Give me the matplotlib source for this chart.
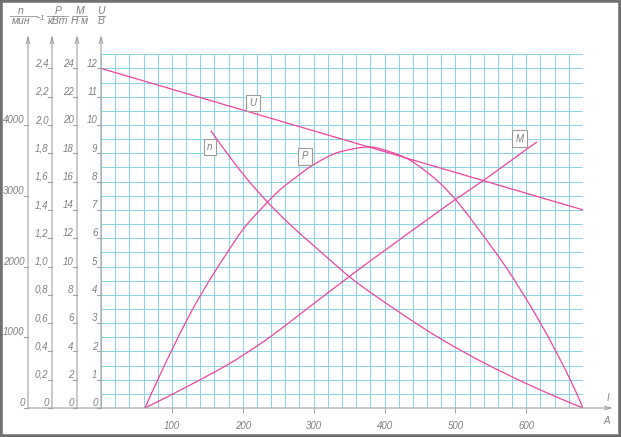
import numpy as np
import matplotlib.pyplot as plt
from matplotlib.patches import Rectangle, PathPatch
from matplotlib.path import Path

plt.rcParams['font.family'] = ['Liberation Sans', 'DejaVu Sans']

# current, A
x_ticks = [100, 200, 300, 400, 500, 600]

# voltage U, V
u_current = [0, 680]
u_volts = [12.0, 7.0]

# speed n, rpm
n_current = [155, 182, 205, 234, 267, 300, 337, 350, 417, 478, 540, 610, 680]
n_rpm = [3920, 3545, 3250, 2920, 2590, 2295, 1970, 1858, 1380, 985, 640, 300, 0]

# power P, kW
p_current = [62, 100, 121, 142, 164, 177, 200, 234, 252, 267, 300, 337, 379,
             408, 431, 459, 478, 499, 539, 572, 620, 662, 680]
p_kw = [0, 0.41, 0.62, 0.81, 0.99, 1.09, 1.26, 1.45, 1.54, 1.60, 1.72, 1.81, 1.845,
        1.81, 1.765, 1.67, 1.59, 1.48, 1.22, 0.99, 0.60, 0.20, 0]

# torque M, N*m
m_current = [62, 121, 180, 201, 238, 267, 350, 478, 499, 539, 598, 615]
m_nm = [0, 1.5, 3.1, 3.75, 5.0, 6.1, 9.28, 13.95, 14.7, 16.06, 18.2, 18.8]

# scale ticks
u_ticks = list(range(0, 13))
m_ticks = list(range(0, 25, 2))
p_ticks = [0, 0.2, 0.4, 0.6, 0.8, 1.0, 1.2, 1.4, 1.6, 1.8, 2.0, 2.2, 2.4]
n_ticks = [0, 1000, 2000, 3000, 4000]

# every scale is drawn on the U scale
N_PER_U = 400.0
M_PER_U = 2.0
P_PER_U = 0.2

PINK = '#f2449e'
GRID = '#8ad4e4'
GRAY = '#a2a2a2'
TXT = '#808080'
W, H = 621, 437


def smooth_curve(x, y):
  # monotone cubic through the read points, drawn as bezier segments
  x = np.asarray(x, float)
  y = np.asarray(y, float)
  h = np.diff(x)
  d = np.diff(y) / h
  m = np.zeros(len(x))
  for k in range(1, len(x) - 1):
    if d[k - 1] * d[k] > 0:
      w1 = 2 * h[k] + h[k - 1]
      w2 = h[k] + 2 * h[k - 1]
      m[k] = (w1 + w2) / (w1 / d[k - 1] + w2 / d[k])
  m[0] = ((2 * h[0] + h[1]) * d[0] - h[0] * d[1]) / (h[0] + h[1])
  if m[0] * d[0] <= 0:
    m[0] = 0
  m[-1] = ((2 * h[-1] + h[-2]) * d[-1] - h[-1] * d[-2]) / (h[-1] + h[-2])
  if m[-1] * d[-1] <= 0:
    m[-1] = 0
  verts = [(x[0], y[0])]
  codes = [Path.MOVETO]
  for k in range(len(x) - 1):
    verts += [(x[k] + h[k] / 3, y[k] + m[k] * h[k] / 3),
              (x[k + 1] - h[k] / 3, y[k + 1] - m[k + 1] * h[k] / 3),
              (x[k + 1], y[k + 1])]
    codes += [Path.CURVE4] * 3
  return PathPatch(Path(verts, codes), fill=False, ec=PINK, lw=0.9, zorder=3)


def fmt(v):
  return ('%.1f' % v).replace('.', ',') if isinstance(v, float) else str(v)


fig = plt.figure(figsize=(W / 100, H / 100), dpi=100)
ax = fig.add_axes([101 / W, 29 / H, 482 / W, 353.75 / H])
ax.set_xlim(0, 680)
ax.set_ylim(0, 12.5)
for s in ax.spines.values():
  s.set_visible(False)

px_a = 482 / 680.0   # pixels per ampere
px_u = 353.75 / 12.5  # pixels per volt

# grid
ax.set_xticks(x_ticks)
ax.set_xticks(np.arange(0, 681, 20), minor=True)
ax.set_yticks([])
ax.set_yticks(np.arange(0, 12.51, 0.5), minor=True)
ax.grid(which='both', color=GRID, lw=0.45, antialiased=False)
ax.tick_params(axis='y', which='both', length=0, labelleft=False)
ax.tick_params(axis='x', which='minor', length=0)
ax.tick_params(axis='x', which='major', length=3.6, width=0.7, color=GRAY,
               pad=6, labelsize=7, labelcolor=TXT)
for lbl in ax.get_xticklabels():
  lbl.set_fontstyle('italic')
ax.set_axisbelow(True)

# curves
ax.plot(u_current, u_volts, color=PINK, lw=0.9, zorder=3)
ax.add_patch(smooth_curve(n_current, np.array(n_rpm) / N_PER_U))
ax.add_patch(smooth_curve(p_current, np.array(p_kw) / P_PER_U))
ax.add_patch(smooth_curve(m_current, np.array(m_nm) / M_PER_U))

# axes lines with arrows
arrow = dict(arrowstyle='->,head_length=0.45,head_width=0.12', color=GRAY,
             lw=0.8, shrinkA=0, shrinkB=0)
top_u = 373 / px_u
scales = [(-73, n_ticks, N_PER_U), (-49, p_ticks, P_PER_U),
          (-24, m_ticks, M_PER_U), (0, u_ticks, 1.0)]
for off, ticks, k in scales:
  xa = off / px_a
  ax.annotate('', xy=(xa, top_u), xytext=(xa, 0), arrowprops=arrow,
              annotation_clip=False, zorder=4)
  tl = 4.5 / px_a
  for t in ticks:
    y = t / k
    ax.plot([xa - tl, xa], [y, y], color=GRAY, lw=0.8, clip_on=False, zorder=4)
    ax.text(xa - tl + 1 / px_a, y + 1.8 / px_u, fmt(t), ha='right', va='baseline',
            fontsize=7, color=TXT, style='italic')

ax.annotate('', xy=(512 / px_a, 0), xytext=(-73 / px_a, 0), arrowprops=arrow,
            annotation_clip=False, zorder=4)
ax.text(507 / px_a, 10 / px_u, 'I', ha='center', va='center', fontsize=7,
        color=TXT, style='italic')
ax.text(506 / px_a, -12.7 / px_u, 'A', ha='center', va='center', fontsize=7,
        color=TXT, style='italic')

# curve labels
box = dict(boxstyle='square,pad=0.35', fc='white', ec='#9a9a9a', lw=0.8)
for name, xa, ya in [('U', 214.7, 10.78), ('n', 153.3, 9.22),
                     ('P', 287.7, 8.90), ('M', 590.5, 9.51)]:
  ax.text(xa, ya, name, ha='center', va='center', fontsize=7, color=TXT,
          style='italic', bbox=box, zorder=5)


# unit headers at the top
def head(xc, x0, x1, top, bottom):
  fig.text(xc / W, 1 - 11 / H, top, ha='center', va='center', fontsize=7.5,
           color=TXT, style='italic')
  fig.add_artist(plt.Line2D([x0 / W, x1 / W], [1 - 15.5 / H, 1 - 15.5 / H],
                            color=GRAY, lw=0.7))
  fig.text(xc / W, 1 - 21.5 / H, bottom, ha='center', va='center', fontsize=7.5,
           color=TXT, style='italic')


head(21, 10, 37, 'n', 'мин')
fig.text(35 / W, 1 - 18.5 / H, '−1', ha='left', va='center', fontsize=6,
         color=TXT, style='italic')
head(58, 47, 68, 'P', 'кВт')
head(80, 73, 87, 'M', 'Н·м')
head(101, 98, 105, 'U', 'В')

fig.add_artist(Rectangle((0, 0), 1, 1, transform=fig.transFigure, fill=False,
                         ec='#707070', lw=4))

fig.savefig('out.png', dpi=100)
